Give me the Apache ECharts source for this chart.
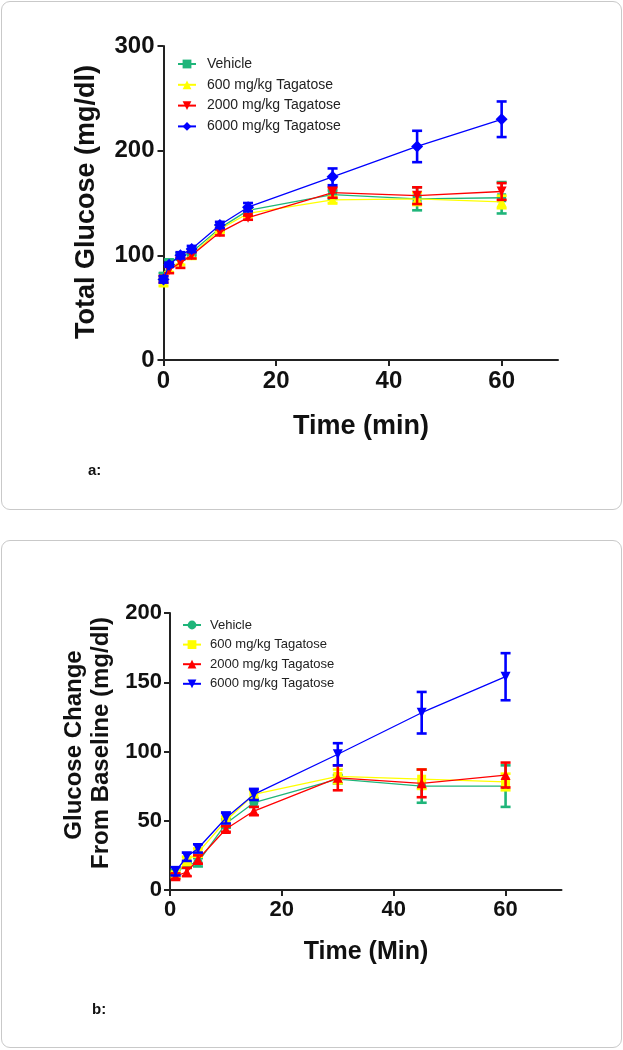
<!DOCTYPE html>
<html><head><meta charset="utf-8">
<script src="https://cdn.jsdelivr.net/npm/echarts@6/dist/echarts.min.js"></script>
<style>
html,body{margin:0;padding:0;background:#fff;width:623px;height:1050px;overflow:hidden;font-family:"Liberation Sans",Arial,sans-serif}
.panel{position:absolute;left:1px;width:619px;border:1.5px solid #c9c9c9;border-radius:9px;background:#fff}
.chart{position:absolute;left:0;width:623px;height:520px}
.lab{position:absolute;font-weight:bold;font-size:15px;color:#111}
</style></head>
<body>
<div class="panel" style="top:1px;height:507px"></div>
<div class="panel" style="top:540px;height:506px"></div>
<div id="c1" class="chart" style="top:0"></div>
<div id="c2" class="chart" style="top:530px"></div>
<div class="lab" style="left:88px;top:461px">a:</div>
<div class="lab" style="left:92px;top:1000px">b:</div>
<script>
// ---------- data: panel a (Total Glucose) ----------
const timeA = [0, 1, 3, 5, 10, 15, 30, 45, 60];
const vehA = [80, 93, 99, 103, 126, 143, 158, 154, 155];
const vehA_err = [3, 3, 3, 3, 3, 3, 4, 11, 15];
const t600A = [74, 87, 94, 100, 125, 140, 153, 154, 151];
const t600A_err = [3, 3, 3, 3, 3, 3, 3, 6, 6];
const t2000A = [77, 86, 93, 100, 122, 136, 160, 157, 161];
const t2000A_err = [3, 3, 5, 3, 3, 2, 5, 8, 8];
const t6000A = [77, 91, 100, 106, 129, 146, 175, 204, 230];
const t6000A_err = [3, 2, 3, 3, 3, 4, 8, 15, 17];

// ---------- data: panel b (Glucose change from baseline) ----------
const timeB = [1, 3, 5, 10, 15, 30, 45, 60];
const vehB = [12.5, 18, 20, 48, 63, 80, 75, 75];
const vehB_err = [2, 2, 3, 3, 3, 3, 12, 15];
const t600B = [11, 21, 27, 50, 69, 82, 80, 78];
const t600B_err = [2, 3, 3, 3, 3, 5, 7, 6];
const t2000B = [10, 13, 22, 44, 57, 81, 77, 83];
const t2000B_err = [2, 3, 3, 2, 3, 9, 10, 9];
const t6000B = [13.5, 24, 30, 52, 69, 98, 128, 154];
const t6000B_err = [3, 3, 3, 4, 4, 8, 15, 17];

const names = ['Vehicle', '600 mg/kg Tagatose', '2000 mg/kg Tagatose', '6000 mg/kg Tagatose'];
const colors = ['#1fb57a', '#ffff00', '#ff0000', '#0000ff'];
const FONT = '"Liberation Sans", Arial, sans-serif';

function pairs(t, v) { return t.map((x, i) => [x, v[i]]); }
function errs(t, v, e) { return t.map((x, i) => [x, v[i] - e[i], v[i] + e[i]]); }

function errSeries(data, color, z) {
  return {
    type: 'custom', data: data, z: z, silent: true,
    encode: { x: 0, y: [1, 2] },
    renderItem: function (params, api) {
      const x = api.value(0), lo = api.value(1), hi = api.value(2);
      const p1 = api.coord([x, hi]), p2 = api.coord([x, lo]);
      const w = 5, st = { stroke: color, lineWidth: 2.6 };
      return { type: 'group', children: [
        { type: 'line', shape: { x1: p1[0], y1: p1[1], x2: p2[0], y2: p2[1] }, style: st },
        { type: 'line', shape: { x1: p1[0] - w, y1: p1[1], x2: p1[0] + w, y2: p1[1] }, style: st },
        { type: 'line', shape: { x1: p2[0] - w, y1: p2[1], x2: p2[0] + w, y2: p2[1] }, style: st }
      ]};
    }
  };
}

function lineSeries(name, data, color, symbol, rot, size, z) {
  return {
    type: 'line', name: name, data: data, z: z,
    symbol: symbol, symbolRotate: rot, symbolSize: size,
    lineStyle: { color: color, width: 1.3 },
    itemStyle: { color: color },
    emphasis: { disabled: true },
    animation: false
  };
}

function axisCommon(fs) {
  return {
    axisLine: { show: true, onZero: false, lineStyle: { color: '#222', width: 2 } },
    axisTick: { show: true, inside: false, length: 6, lineStyle: { color: '#222', width: 2 } },
    splitLine: { show: false },
    axisLabel: { color: '#111', fontFamily: FONT, fontWeight: 'bold', fontSize: fs, showMaxLabel: false }
  };
}

// ---------- chart a ----------
const c1 = echarts.init(document.getElementById('c1'), null, { renderer: 'canvas' });
const symA = [['rect', 0, 9], ['triangle', 0, 10], ['triangle', 180, 10], ['diamond', 0, 12]];
const sA = [vehA, t600A, t2000A, t6000A];
const eA = [vehA_err, t600A_err, t2000A_err, t6000A_err];
const seriesA = [];
sA.forEach((v, i) => seriesA.push(errSeries(errs(timeA, v, eA[i]), colors[i], 2 + i * 2)));
sA.forEach((v, i) => seriesA.push(lineSeries(names[i], pairs(timeA, v), colors[i], symA[i][0], symA[i][1], symA[i][2], 3 + i * 2)));
c1.setOption({
  animation: false,
  backgroundColor: 'transparent',
  grid: { left: 163.5, top: 46, width: 394.5, height: 314 },
  xAxis: Object.assign({ type: 'value', min: 0, max: 70, interval: 20 }, axisCommon(24),
    { axisLabel: { color: '#111', fontFamily: FONT, fontWeight: 'bold', fontSize: 24, margin: 9, showMaxLabel: false } }),
  yAxis: Object.assign({ type: 'value', min: 0, max: 300, interval: 100 }, axisCommon(24),
    { axisLabel: { color: '#111', fontFamily: FONT, fontWeight: 'bold', fontSize: 24, margin: 9 } }),
  legend: {
    data: names, orient: 'vertical', left: 172, top: 52, itemWidth: 18, itemHeight: 11, itemGap: 6.8,
    textStyle: { fontFamily: FONT, fontSize: 14, color: '#222', lineHeight: 14, padding: [0, 0, 0, 6] },
    selectedMode: false
  },
  graphic: [
    { type: 'text', x: 87, y: 202, rotation: Math.PI / 2,
      style: { text: 'Total Glucose (mg/dl)', font: 'bold 27px ' + FONT, fill: '#111', align: 'center', verticalAlign: 'middle' } },
    { type: 'text', x: 361, y: 427,
      style: { text: 'Time (min)', font: 'bold 27px ' + FONT, fill: '#111', align: 'center', verticalAlign: 'middle' } }
  ],
  series: seriesA
});

// ---------- chart b ----------
const c2 = echarts.init(document.getElementById('c2'), null, { renderer: 'canvas' });
const symB = [['circle', 0, 9], ['rect', 0, 9], ['triangle', 0, 10], ['triangle', 180, 10]];
const sB = [vehB, t600B, t2000B, t6000B];
const eB = [vehB_err, t600B_err, t2000B_err, t6000B_err];
const seriesB = [];
sB.forEach((v, i) => seriesB.push(errSeries(errs(timeB, v, eB[i]), colors[i], 2 + i * 2)));
sB.forEach((v, i) => seriesB.push(lineSeries(names[i], pairs(timeB, v), colors[i], symB[i][0], symB[i][1], symB[i][2], 3 + i * 2)));
c2.setOption({
  animation: false,
  backgroundColor: 'transparent',
  grid: { left: 170, top: 83, width: 391.5, height: 277 },
  xAxis: Object.assign({ type: 'value', min: 0, max: 70, interval: 20 }, axisCommon(22),
    { axisLabel: { color: '#111', fontFamily: FONT, fontWeight: 'bold', fontSize: 22, margin: 9, showMaxLabel: false } }),
  yAxis: Object.assign({ type: 'value', min: 0, max: 200, interval: 50 }, axisCommon(22),
    { axisLabel: { color: '#111', fontFamily: FONT, fontWeight: 'bold', fontSize: 22, margin: 8 } }),
  legend: {
    data: names, orient: 'vertical', left: 177, top: 83.5, itemWidth: 18, itemHeight: 11, itemGap: 6.6,
    textStyle: { fontFamily: FONT, fontSize: 13, color: '#222', lineHeight: 13, padding: [0, 0, 0, 4] },
    selectedMode: false
  },
  graphic: [
    { type: 'text', x: 74, y: 215, rotation: Math.PI / 2,
      style: { text: 'Glucose Change', font: 'bold 24px ' + FONT, fill: '#111', align: 'center', verticalAlign: 'middle' } },
    { type: 'text', x: 101, y: 213, rotation: Math.PI / 2,
      style: { text: 'From Baseline (mg/dl)', font: 'bold 24px ' + FONT, fill: '#111', align: 'center', verticalAlign: 'middle' } },
    { type: 'text', x: 366, y: 422,
      style: { text: 'Time (Min)', font: 'bold 25px ' + FONT, fill: '#111', align: 'center', verticalAlign: 'middle' } }
  ],
  series: seriesB
});
</script>
</body></html>
